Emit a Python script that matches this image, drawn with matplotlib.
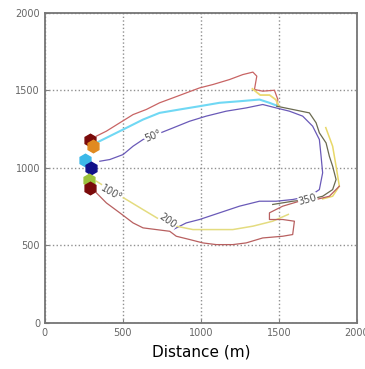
import numpy as np
import matplotlib.pyplot as plt

# contour traces (distance in m)
top_red_x = [330, 394, 480, 565, 650, 735, 821, 906, 991, 1077, 1183, 1268, 1333, 1358, 1343, 1396, 1471, 1493, 1486]
top_red_y = [1205, 1237, 1291, 1344, 1377, 1420, 1452, 1484, 1516, 1538, 1570, 1602, 1618, 1592, 1506, 1495, 1501, 1441, 1398]

cyan_x = [330, 416, 522, 629, 735, 864, 991, 1119, 1247, 1375, 1439, 1490]
cyan_y = [1162, 1205, 1258, 1312, 1355, 1377, 1398, 1420, 1430, 1441, 1420, 1400]

yellow_top_x = [1330, 1380, 1440, 1480, 1500]
yellow_top_y = [1510, 1470, 1470, 1440, 1400]

purple_x = [352, 416, 501, 565, 629, 714, 821, 927, 1034, 1162, 1290, 1396, 1482, 1567, 1652, 1716, 1759, 1770, 1780,
            1759, 1695, 1588, 1482, 1375, 1247, 1119, 991, 906, 821]
purple_y = [1043, 1054, 1086, 1140, 1183, 1215, 1258, 1301, 1334, 1366, 1387, 1409, 1387, 1366, 1334, 1269, 1183, 1075, 968,
            860, 817, 796, 785, 785, 753, 710, 667, 645, 602]

outer_x = [1486, 1588, 1695, 1738, 1759, 1802, 1823, 1844, 1866, 1844, 1780, 1695, 1588, 1460]
outer_y = [1398, 1377, 1355, 1291, 1226, 1161, 1075, 1011, 925, 860, 817, 796, 785, 764]

yellow_x = [1800, 1844, 1866, 1887, 1844, 1780]
yellow_y = [1260, 1140, 1011, 882, 817, 800]

yellow_low_x = [330, 416, 522, 629, 735, 842, 949, 1077, 1204, 1333, 1460, 1560]
yellow_low_y = [914, 860, 796, 731, 667, 624, 602, 602, 602, 624, 656, 700]

low_red_x = [330, 394, 480, 565, 629, 714, 800, 842, 927, 1012, 1098, 1204, 1290, 1396, 1524, 1588, 1599, 1524, 1439, 1439,
             1524, 1631, 1738, 1823, 1887]
low_red_y = [839, 774, 710, 645, 613, 602, 591, 559, 538, 516, 505, 505, 516, 548, 559, 570, 656, 667, 667, 710,
             753, 785, 796, 817, 882]

# source markers
src_x = [288, 309, 256, 298, 284, 288]
src_y = [1183, 1140, 1054, 1000, 925, 871]
src_c = ['#7a0a0a', '#e08a20', '#3cb8e8', '#10108a', '#9cc23c', '#7a0a0a']

# contour labels
lab_txt = ['50°', '100°', '200', '350']
lab_x = [693, 426, 789, 1684]
lab_y = [1204, 839, 656, 796]
lab_rot = [22, -30, -35, 15]

fig = plt.figure(figsize=(3.65, 3.69), dpi=100)
ax = fig.add_axes([0.123, 0.125, 0.855, 0.840])

ax.plot(top_red_x, top_red_y, color='#c86464', lw=0.9)
ax.plot(cyan_x, cyan_y, color='#70d8f4', lw=1.5)
ax.plot(yellow_top_x, yellow_top_y, color='#ecd870', lw=1.3)
ax.plot(purple_x, purple_y, color='#6a5ab8', lw=0.9)
ax.plot(outer_x, outer_y, color='#6a6a50', lw=0.9)
ax.plot(yellow_x, yellow_y, color='#e8d868', lw=1.1)
ax.plot(yellow_low_x, yellow_low_y, color='#e4dc80', lw=1.1)
ax.plot(low_red_x, low_red_y, color='#b86060', lw=0.9)

for x, y, c in zip(src_x, src_y, src_c):
    ax.plot(x, y, marker='h', ms=9, color=c, mec=c)

for t, x, y, r in zip(lab_txt, lab_x, lab_y, lab_rot):
    ax.text(x, y, t, rotation=r, fontsize=7, color='#505050', ha='center', va='center',
            bbox=dict(boxstyle='square,pad=0.05', fc='white', ec='none'))

ax.set_xlim(0, 2000)
ax.set_ylim(0, 2000)
ax.set_xticks([0, 500, 1000, 1500, 2000])
ax.set_yticks([0, 500, 1000, 1500, 2000])
ax.grid(True, linestyle=':', color='#909090', lw=1.0)
ax.tick_params(direction='in', length=3, labelsize=7, labelcolor='#666666', color='#808080')
for s in ax.spines.values():
    s.set_color('#757575')
    s.set_linewidth(1.3)

ax.set_xlabel('Distance (m)', fontsize=11, labelpad=5)

fig.savefig('out.png', dpi=100)
